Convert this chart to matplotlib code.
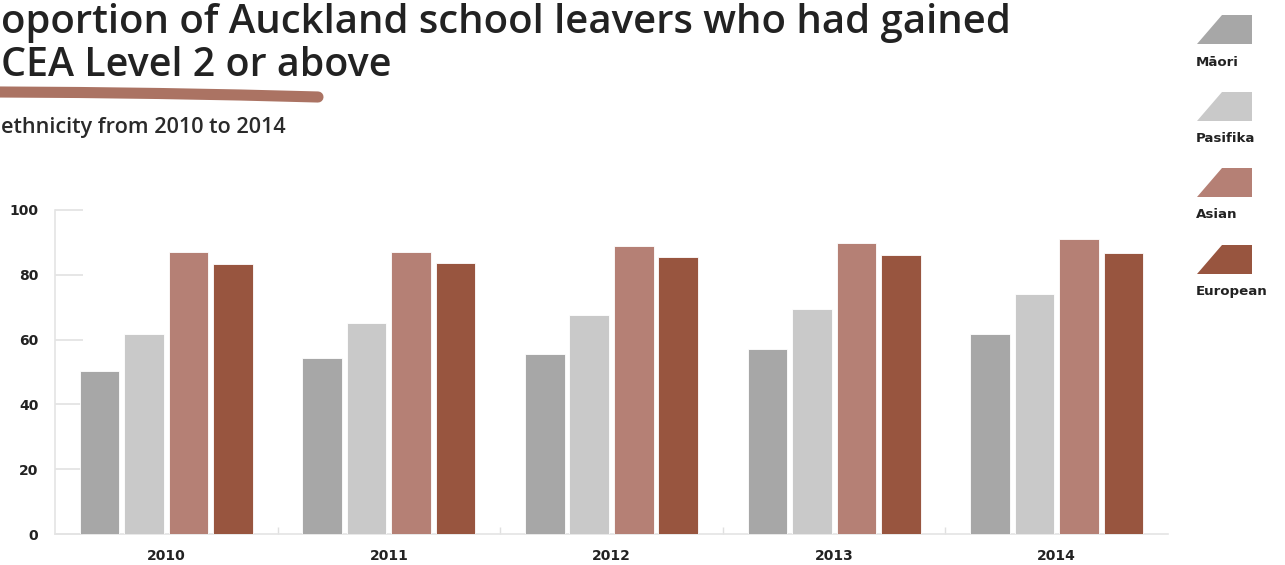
import matplotlib
matplotlib.use("Agg")
import matplotlib.pyplot as plt
from matplotlib.patches import Polygon
import numpy as np

years = ["2010", "2011", "2012", "2013", "2014"]
series_names = ["Māori", "Pasifika", "Asian", "European"]
maori = [50.3, 54.3, 55.6, 57.1, 61.7]
pasifika = [61.6, 65.1, 67.6, 69.4, 74.1]
asian = [86.9, 87.0, 88.9, 89.8, 91.0]
european = [83.3, 83.6, 85.5, 86.1, 86.8]
colors = ["#a7a7a7", "#c9c9c9", "#b58075", "#98553f"]
yticks = [0, 20, 40, 60, 80, 100]

title_lines = ["oportion of Auckland school leavers who had gained",
               "CEA Level 2 or above"]
subtitle = "ethnicity from 2010 to 2014"

W, H = 1285, 565
fig = plt.figure(figsize=(W / 100, H / 100), dpi=100)
fig.patch.set_facecolor("white")

TITLE_FONT = ["Open Sans", "DejaVu Sans"]
TICK_FONT = ["DejaVu Sans"]

ax = fig.add_axes([55 / W, 1 - 534 / H, (1168 - 55) / W, (534 - 210) / H])
x = np.arange(len(years))
step = 0.2
width = 0.178
all_series = [maori, pasifika, asian, european]
for i, (vals, c) in enumerate(zip(all_series, colors)):
    ax.bar(x + (i - 1.5) * step, vals, width=width, color=c,
           edgecolor="white", linewidth=0.6, zorder=3)

ax.set_xlim(-0.5, len(years) - 0.5)
ax.set_ylim(0, 100)
ax.set_yticks(yticks)
ax.set_yticklabels([str(v) for v in yticks])
ax.set_xticks(x)
ax.set_xticklabels(years)
ax.set_xticks(np.arange(0.5, len(years) - 0.5, 1), minor=True)

for s in ["top", "right"]:
    ax.spines[s].set_visible(False)
for s in ["left", "bottom"]:
    ax.spines[s].set_color("#e4e4e4")
    ax.spines[s].set_linewidth(1.2)

ax.tick_params(axis="y", direction="in", length=20, width=1.4, color="#e6e6e6",
               pad=12, labelsize=10, labelcolor="#222222")
ax.tick_params(axis="x", which="major", length=0, pad=11, labelsize=10,
               labelcolor="#222222")
ax.tick_params(axis="x", which="minor", direction="in", length=5, width=1,
               color="#e0e0e0")
for lab in ax.get_yticklabels() + ax.get_xticklabels():
    lab.set_fontfamily(TICK_FONT)
    lab.set_fontweight("bold")

renderer = fig.canvas.get_renderer()


def fitted_text(s, y_px, target_w, size, weight="normal", color="#222222"):
    t = fig.text(1 / W, 1 - y_px / H, s, fontsize=size, family=TITLE_FONT,
                 fontweight=weight, color=color, va="baseline", ha="left")
    w = t.get_window_extent(renderer).width
    t.set_fontsize(size * target_w / w)
    return t


fitted_text(title_lines[0], 33, 1012, 27, weight="semibold")
fitted_text(title_lines[1], 76, 390, 27, weight="semibold")
fitted_text(subtitle, 133, 284, 13.5, weight="semibold", color="#2a2a2a")

# brush underline
ux = np.array([0, 80, 160, 240, 318])
uy = np.array([92, 92.5, 93.5, 95, 97])
fig.add_artist(plt.Line2D(ux / W, 1 - uy / H, color="#ab7363", linewidth=8,
                          solid_capstyle="round", transform=fig.transFigure))

# Legend with trapezoid swatches
icon_tops = [15, 92, 168, 245]
for name, c, top in zip(series_names, colors, icon_tops):
    xl, xm, xr = 1197, 1222, 1252
    yt, yb = top, top + 29
    pts = [(xl, yb), (xm, yt), (xr, yt), (xr, yb)]
    poly = Polygon([(px / W, 1 - py / H) for px, py in pts], closed=True,
                   facecolor=c, edgecolor="none", transform=fig.transFigure)
    fig.add_artist(poly)
    fig.text(1196 / W, 1 - (yb + 18) / H, name, fontsize=9.6, fontweight="bold",
             family=TICK_FONT, color="#222222", va="center", ha="left")

fig.savefig("out.png", dpi=100, facecolor="white")
